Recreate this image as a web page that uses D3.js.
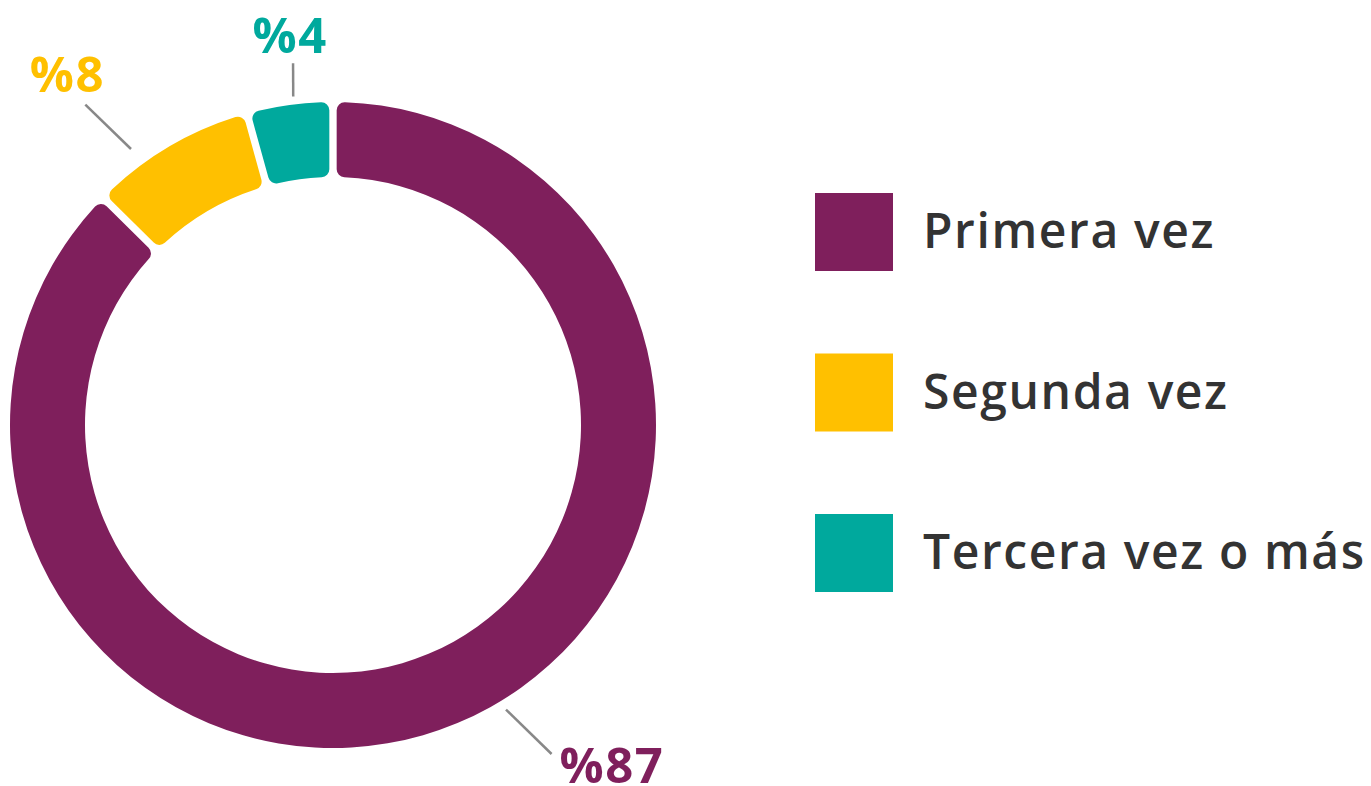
<!DOCTYPE html>
<html>
  <head>
    <meta charset="utf-8" />
    <title>Primera vez / Segunda vez / Tercera vez o más</title>
    <script src="https://d3js.org/d3.v7.min.js"></script>
    <style>
      body { margin: 0; background: #fff; }
      text { font-family: "Open Sans", "Noto Sans", sans-serif; }
    </style>
  </head>
  <body>
    <svg width="1371" height="786"></svg>
    <script>
      var categories = ["Primera vez", "Segunda vez", "Tercera vez o más"];
      var values = [87, 8, 4];
      var labels = ["%87", "%8", "%4"];
      var colors = ["#7f1f5c", "#ffc000", "#00a99d"];

      var svg = d3.select("svg");
      var cx = 333, cy = 425, outerR = 323, innerR = 248;

      var g = svg.append("g").attr("transform", "translate(" + cx + "," + cy + ")");

      var pie = d3.pie().sort(null).value(function (d) { return d; }).padAngle(0.018);
      var arc = d3.arc().innerRadius(innerR).outerRadius(outerR).cornerRadius(8);
      var arcs = pie(values);

      g.selectAll(".slice")
        .data(arcs)
        .enter()
        .append("path")
        .attr("class", "slice")
        .attr("d", arc)
        .attr("fill", function (d, i) { return colors[i]; });

      // leader lines: [angle, radius] of start and end (deg clockwise from top)
      function pt(angDeg, r) {
        var a = (angDeg * Math.PI) / 180;
        return [r * Math.sin(a), -r * Math.cos(a)];
      }
      var leaders = [
        [[148.7, 333], [146.4, 395]],
        [[323.8, 342], [322.3, 405]],
        [[353.1, 331], [353.7, 364]]
      ];
      // label offset from the outer end of its leader line
      var labelOffset = [[8, 29, "start"], [-18, -13, "middle"], [-3, -10, "middle"]];

      arcs.forEach(function (d, i) {
        var p0 = pt(leaders[i][0][0], leaders[i][0][1]);
        var p1 = pt(leaders[i][1][0], leaders[i][1][1]);
        g.append("line")
          .attr("x1", p0[0]).attr("y1", p0[1])
          .attr("x2", p1[0]).attr("y2", p1[1])
          .attr("stroke", "#888")
          .attr("stroke-width", 2.5);

        g.append("text")
          .attr("fill", colors[i])
          .attr("font-size", 49)
          .attr("font-weight", 700)
          .attr("letter-spacing", 1.5)
          .attr("x", p1[0] + labelOffset[i][0])
          .attr("y", p1[1] + labelOffset[i][1])
          .attr("text-anchor", labelOffset[i][2])
          .text(labels[i]);
      });

      // legend
      var legendY = d3.scalePoint().domain(categories).range([193, 514]);

      var leg = svg.selectAll(".leg")
        .data(categories)
        .enter()
        .append("g")
        .attr("class", "leg")
        .attr("transform", function (d) { return "translate(815," + legendY(d) + ")"; });

      leg.append("rect")
        .attr("width", 78)
        .attr("height", 78)
        .attr("fill", function (d, i) { return colors[i]; });

      leg.append("text")
        .attr("x", 108)
        .attr("y", 55)
        .attr("fill", "#333")
        .attr("font-size", 48)
        .attr("font-weight", 600)
        .attr("letter-spacing", 1.6)
        .text(function (d) { return d; });
    </script>
  </body>
</html>
